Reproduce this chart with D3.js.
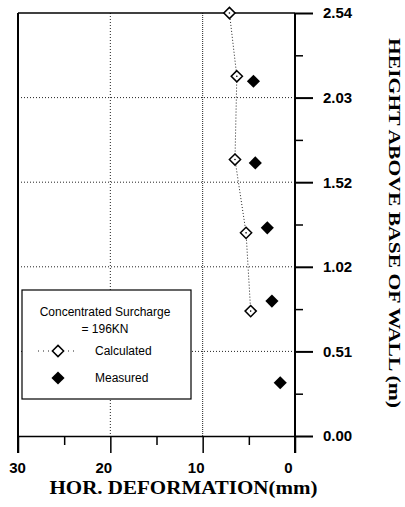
<!DOCTYPE html>
<html>
<head>
<meta charset="utf-8">
<script src="https://cdn.jsdelivr.net/npm/d3@7"></script>
<style>
  body { margin: 0; background: #fff; }
  svg { display: block; }
</style>
</head>
<body>
<div id="chart"></div>
<script>
// data
let calcDeform = [7.1, 6.3, 6.5, 5.3, 4.8];
let calcHeight = [2.54, 2.16, 1.66, 1.22, 0.75];
let measDeform = [4.5, 4.3, 3.0, 2.5, 1.6];
let measHeight = [2.13, 1.64, 1.25, 0.81, 0.32];

let xTicks = [0, 10, 20, 30];
let xMinorTicks = [5, 15, 25];
let yTicks = [0, 0.508, 1.016, 1.524, 2.032, 2.54];
let yTickLabels = ["0.00", "0.51", "1.02", "1.52", "2.03", "2.54"];
let yMinorTicks = [0.254, 0.762, 1.27, 1.778, 2.286];

let legendTitle = ["Concentrated Surcharge", "= 196KN"];
let legendNames = ["Calculated", "Measured"];

(function () {
  let width = 405,
    height = 507;
  let left = 18, right = 295, top = 13, bottom = 436;
  let sans = "'Liberation Sans', Arial, sans-serif",
    serif = "'Liberation Serif', 'Times New Roman', serif";

  let svg = d3.select("#chart").append("svg")
    .attr("width", width)
    .attr("height", height);

  // x axis is reversed: 30 on the left, 0 on the right
  let x = d3.scaleLinear().domain([30, 0]).range([left, right]);
  let y = d3.scaleLinear().domain([0, 2.54]).range([bottom, top]);

  let grid = svg.append("g").attr("class", "grid");

  // dotted grid lines
  grid.selectAll("line.vx")
    .data([10, 20])
    .enter().append("line")
    .attr("class", "vx")
    .attr("x1", d => x(d)).attr("x2", d => x(d))
    .attr("y1", y(2.54)).attr("y2", y(0))
    .style("stroke", "#222")
    .style("stroke-width", 1)
    .style("stroke-dasharray", d => d === 10 ? "1,1" : "1,2");

  grid.selectAll("line.hy")
    .data(yTicks.slice(1, 5))
    .enter().append("line")
    .attr("class", "hy")
    .attr("x1", x(30)).attr("x2", x(0))
    .attr("y1", d => y(d)).attr("y2", d => y(d))
    .style("stroke", "#222")
    .style("stroke-width", 1)
    .style("stroke-dasharray", "1,2");

  // top border at 2.54
  svg.append("line")
    .attr("x1", x(30)).attr("x2", x(0))
    .attr("y1", y(2.54)).attr("y2", y(2.54))
    .style("stroke", "#000")
    .style("stroke-width", 1.5);

  // left border
  svg.append("line")
    .attr("x1", x(30)).attr("x2", x(30))
    .attr("y1", y(2.54)).attr("y2", y(0) + 17)
    .style("stroke", "#000")
    .style("stroke-width", 2);

  // right axis line
  svg.append("line")
    .attr("x1", x(0)).attr("x2", x(0))
    .attr("y1", y(2.54)).attr("y2", y(0) + 17)
    .style("stroke", "#000")
    .style("stroke-width", 2);

  // bottom axis
  let xAxis = d3.axisBottom(x)
    .tickValues(xTicks)
    .tickSize(17)
    .tickSizeOuter(0)
    .tickFormat(d3.format("d"));

  let gx = svg.append("g")
    .attr("transform", `translate(0, ${bottom})`)
    .call(xAxis);
  gx.select(".domain").style("stroke-width", 1.5);
  gx.selectAll(".tick line").style("stroke-width", 1.5);
  gx.selectAll(".tick text")
    .attr("y", 26)
    .attr("dx", d => d === 30 ? -1 : -7)
    .attr("dy", "0.71em")
    .style("font-family", sans)
    .style("font-weight", "bold")
    .style("font-size", "15px")
    .style("fill", "#000");

  let gxMinor = svg.append("g")
    .attr("transform", `translate(0, ${bottom})`)
    .call(d3.axisBottom(x).tickValues(xMinorTicks).tickSize(9).tickSizeOuter(0).tickFormat(""));
  gxMinor.select(".domain").remove();
  gxMinor.selectAll(".tick line").style("stroke-width", 1.5);

  // right axis
  let yAxis = d3.axisRight(y)
    .tickValues(yTicks)
    .tickSize(18)
    .tickSizeOuter(0)
    .tickFormat((d, i) => yTickLabels[i]);

  let gy = svg.append("g")
    .attr("transform", `translate(${right}, 0)`)
    .call(yAxis);
  gy.select(".domain").remove();
  gy.selectAll(".tick line").style("stroke-width", 2);
  gy.selectAll(".tick text")
    .attr("x", 28)
    .style("font-family", sans)
    .style("font-weight", "bold")
    .style("font-size", "15px")
    .style("fill", "#000");

  let gyMinor = svg.append("g")
    .attr("transform", `translate(${right}, 0)`)
    .call(d3.axisRight(y).tickValues(yMinorTicks).tickSize(8).tickSizeOuter(0).tickFormat(""));
  gyMinor.select(".domain").remove();
  gyMinor.selectAll(".tick line").style("stroke-width", 1.5);

  // axis titles
  svg.append("text")
    .attr("x", (left + right) / 2 + 27)
    .attr("y", 494)
    .attr("text-anchor", "middle")
    .attr("textLength", 268)
    .attr("lengthAdjust", "spacingAndGlyphs")
    .style("font-family", serif)
    .style("font-weight", "bold")
    .style("font-size", "18px")
    .text("HOR. DEFORMATION(mm)");

  svg.append("text")
    .attr("transform", `translate(389, ${(38 + 408) / 2}) rotate(90)`)
    .attr("text-anchor", "middle")
    .attr("textLength", 370)
    .attr("lengthAdjust", "spacingAndGlyphs")
    .style("font-family", serif)
    .style("font-weight", "bold")
    .style("font-size", "17px")
    .text("HEIGHT ABOVE BASE OF WALL (m)");

  // calculated series
  let calc = calcDeform.map((d, i) => [d, calcHeight[i]]);
  let meas = measDeform.map((d, i) => [d, measHeight[i]]);

  svg.append("path")
    .datum(calc)
    .attr("d", d3.line().x(d => x(d[0])).y(d => y(d[1])))
    .style("fill", "none")
    .style("stroke", "#222")
    .style("stroke-width", 1)
    .style("stroke-dasharray", "1,2");

  let openDiamond = d3.symbol().type(d3.symbolDiamond2).size(80);
  let fillDiamond = d3.symbol().type(d3.symbolDiamond2).size(110);

  svg.selectAll("path.calc")
    .data(calc)
    .enter().append("path")
    .attr("class", "calc")
    .attr("transform", d => `translate(${x(d[0])}, ${y(d[1])})`)
    .attr("d", openDiamond)
    .style("fill", "#fff")
    .style("stroke", "#000")
    .style("stroke-width", 1.5);

  svg.selectAll("circle.calcdot")
    .data(calc)
    .enter().append("circle")
    .attr("class", "calcdot")
    .attr("cx", d => x(d[0]))
    .attr("cy", d => y(d[1]))
    .attr("r", 0.8)
    .style("fill", "#000");

  svg.selectAll("path.meas")
    .data(meas)
    .enter().append("path")
    .attr("class", "meas")
    .attr("transform", d => `translate(${x(d[0])}, ${y(d[1])})`)
    .attr("d", fillDiamond)
    .style("fill", "#000");

  // legend
  let legend = svg.append("g").attr("transform", "translate(22, 290)");

  legend.append("rect")
    .attr("width", 169)
    .attr("height", 109)
    .style("fill", "#fff")
    .style("stroke", "#000")
    .style("stroke-width", 1.2);

  legend.selectAll("text.title")
    .data(legendTitle)
    .enter().append("text")
    .attr("class", "title")
    .attr("x", 83)
    .attr("y", (d, i) => 26 + i * 17)
    .attr("text-anchor", "middle")
    .style("font-family", sans)
    .style("font-size", "12px")
    .text(d => d);

  legend.append("line")
    .attr("x1", 16).attr("x2", 56)
    .attr("y1", 61).attr("y2", 61)
    .style("stroke", "#222")
    .style("stroke-dasharray", "1,4");

  legend.append("path")
    .attr("transform", "translate(36, 61)")
    .attr("d", openDiamond)
    .style("fill", "#fff")
    .style("stroke", "#000")
    .style("stroke-width", 1.5);

  legend.append("path")
    .attr("transform", "translate(36, 88)")
    .attr("d", fillDiamond)
    .style("fill", "#000");

  legend.selectAll("text.name")
    .data(legendNames)
    .enter().append("text")
    .attr("class", "name")
    .attr("x", 73)
    .attr("y", (d, i) => 65 + i * 27)
    .style("font-family", sans)
    .style("font-size", "12px")
    .text(d => d);
})();
</script>
</body>
</html>
